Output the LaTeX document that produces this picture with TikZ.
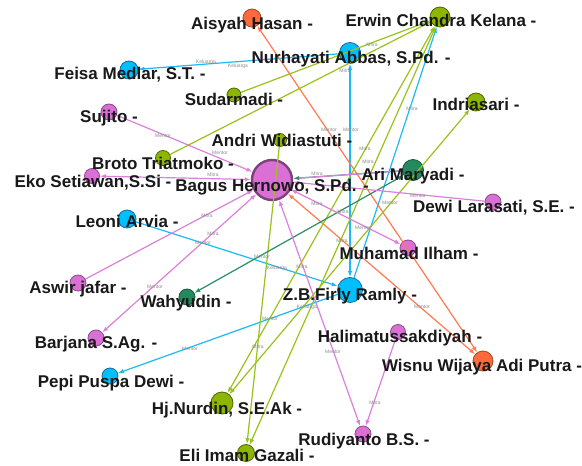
\documentclass[tikz,border=0pt]{standalone}
\usepackage{fontspec}
\setmainfont{Liberation Sans}
\usetikzlibrary{arrows.meta}
\definecolor{cpur}{HTML}{DA70D6}
\definecolor{cpurd}{HTML}{8A4A88}
\definecolor{cblu}{HTML}{00BFFF}
\definecolor{cblud}{HTML}{1A6A92}
\definecolor{cgrn}{HTML}{8DB600}
\definecolor{cgrnd}{HTML}{506600}
\definecolor{cora}{HTML}{FF6A3D}
\definecolor{corad}{HTML}{A3452A}
\definecolor{ctea}{HTML}{24895F}
\definecolor{cted}{HTML}{165A3E}
\definecolor{epurc}{HTML}{DB80DB}
\definecolor{ebluc}{HTML}{1DB9F5}
\definecolor{egrnc}{HTML}{99C21A}
\definecolor{eorac}{HTML}{FF7A50}
\definecolor{eteac}{HTML}{2A8C68}
\tikzset{
  vert/.style={circle, inner sep=0pt, line width=0.8pt},
  pv/.style={vert, fill=cpur, draw=cpurd},
  bv/.style={vert, fill=cblu, draw=cblud},
  gv/.style={vert, fill=cgrn, draw=cgrnd},
  ov/.style={vert, fill=cora, draw=corad},
  tv/.style={vert, fill=ctea, draw=cted},
  lab/.style={font=\bfseries\fontsize{17}{17}\selectfont, text=black!90, inner sep=0pt, anchor=base},
  elab/.style={font=\fontsize{5}{5}\selectfont, text=black!45, inner sep=0pt},
  edg/.style={line width=1.2pt},
  epur/.style={edg, draw=epurc},
  eblu/.style={edg, draw=ebluc},
  egrn/.style={edg, draw=egrnc},
  eora/.style={edg, draw=eorac},
  etea/.style={edg, draw=eteac},
  ar/.style={-{Latex[length=6pt,width=4.5pt]}},
  bar/.style={{Latex[length=6pt,width=4.5pt]}-{Latex[length=6pt,width=4.5pt]}},
}
\begin{document}
\begin{tikzpicture}[x=1pt,y=-1pt]
\useasboundingbox[fill=white] (0,0) rectangle (582,466);
% nodes (circles)
\node[ov, minimum size=18pt] (aisyah) at (252,18) {};
\node[gv, minimum size=20pt] (erwin) at (440,17) {};
\node[bv, minimum size=21pt] (nurhayati) at (350,53) {};
\node[bv, minimum size=18pt] (feisa) at (129,70) {};
\node[gv, minimum size=14pt] (sudarmadi) at (234,95) {};
\node[gv, minimum size=18pt] (indriasari) at (476,102) {};
\node[pv, minimum size=16pt] (sujito) at (109,112) {};
\node[gv, minimum size=13pt] (andri) at (280,140) {};
\node[gv, minimum size=15pt] (broto) at (163,158) {};
\node[pv, minimum size=40pt, line width=2.4pt, draw=cpurd!90!black] (bagus) at (272,180) {};
\node[pv, minimum size=15pt] (eko) at (92,176) {};
\node[tv, minimum size=21pt] (ari) at (413,170) {};
\node[pv, minimum size=16pt] (dewi) at (493,202) {};
\node[bv, minimum size=18pt] (leoni) at (127,219) {};
\node[pv, minimum size=16pt] (ilham) at (408,248) {};
\node[pv, minimum size=16pt] (aswir) at (78,283) {};
\node[tv, minimum size=16pt] (wahyudin) at (187,297) {};
\node[bv, minimum size=25pt] (zb) at (350,290) {};
\node[pv, minimum size=16pt] (barjana) at (96,338) {};
\node[pv, minimum size=15pt] (halimah) at (398,332) {};
\node[ov, minimum size=20pt] (wisnu) at (483,361) {};
\node[bv, minimum size=16pt] (pepi) at (110,376) {};
\node[gv, minimum size=22pt] (nurdin) at (222,403) {};
\node[pv, minimum size=16pt] (rudi) at (363,434) {};
\node[gv, minimum size=17pt] (eli) at (246,453) {};
% edges
\draw[eblu,ar] (nurhayati) -- (feisa);
\draw[eblu,bar] (nurhayati) -- (zb);
\draw[eblu,ar] (zb) -- (erwin);
\draw[eblu,ar] (leoni) -- (zb);
\draw[eblu,ar] (zb) -- (pepi);
\draw[eora,bar] (aisyah) -- (wisnu);
\draw[eora,bar] (bagus) -- (wisnu);
\draw[egrn,ar] (sudarmadi) -- (erwin);
\draw[egrn,ar] (broto) -- (erwin);
\draw[egrn,bar] (nurdin) -- (erwin);
\draw[egrn,bar] (eli) -- (erwin);
\draw[egrn,bar] (indriasari) -- (nurdin);
\draw[egrn,ar] (andri) -- (eli);
\draw[etea,bar] (ari) -- (wahyudin);
\draw[etea,ar] (ari) -- (bagus);
\draw[epur,shorten >=6pt] (ari) -- (bagus);
\draw[epur,ar] (sujito) -- (bagus);
\draw[epur,bar] (eko) -- (bagus);
\draw[epur,ar] (aswir) -- (bagus);
\draw[epur,bar] (bagus) -- (barjana);
\draw[epur,bar] (bagus) -- (rudi);
\draw[epur,ar] (halimah) -- (rudi);
\draw[epur,bar] (bagus) -- (ilham);
\draw[epur,ar] (dewi) -- (bagus);
% edge labels
\node[elab] (k1) at (206,62) {Keluarga};
\node[elab] (k2) at (238,66) {Keluarga};
\node[elab] (m1) at (372,45) {Mitra};
\node[elab] (m2) at (345,71) {Mitra};
\node[elab] (m3) at (412,109) {Mitra};
\node[elab] (t1) at (163,136) {Mentor};
\node[elab] (t2) at (220,153) {Mentor};
\node[elab] (m4) at (213,175) {Mitra};
\node[elab] (t3) at (329,130) {Mentor};
\node[elab] (t4) at (351,130) {Mentor};
\node[elab] (m5) at (365,149) {Mitra};
\node[elab] (m6) at (368,162) {Mitra};
\node[elab] (m7) at (317,174) {Mitra};
\node[elab] (m8) at (317,204) {Mitra};
\node[elab] (m9) at (343,212) {Mitra};
\node[elab] (t5) at (390,203) {Mentor};
\node[elab] (t6) at (418,196) {Mentor};
\node[elab] (t7) at (363,228) {Mentor};
\node[elab] (m10) at (342,241) {Mitra};
\node[elab] (m11) at (207,216) {Mitra};
\node[elab] (m12) at (213,234) {Mitra};
\node[elab] (t8) at (203,243) {Mentor};
\node[elab] (t9) at (262,257) {Mentor};
\node[elab] (k3) at (277,268) {Keluarga};
\node[elab] (m13) at (302,267) {Mitra};
\node[elab] (k4) at (307,307) {Keluarga};
\node[elab] (t10) at (270,319) {Mentor};
\node[elab] (t11) at (155,287) {Mentor};
\node[elab] (t12) at (190,349) {Mentor};
\node[elab] (m14) at (258,347) {Mitra};
\node[elab] (t13) at (422,307) {Mentor};
\node[elab] (t14) at (333,352) {Mentor};
\node[elab] (m15) at (375,403) {Mitra};
% node labels
\node[lab] (l-aisyah) at (252,29) {Aisyah Hasan -};
\node[lab] (l-erwin) at (441,26) {Erwin Chandra Kelana -};
\node[lab] (l-nurhayati) at (351,63) {Nurhayati Abbas, S.Pd. -};
\node[lab] (l-feisa) at (130,79) {Feisa Medlar, S.T. -};
\node[lab] (l-sudarmadi) at (234,105) {Sudarmadi -};
\node[lab] (l-indriasari) at (476,110) {Indriasari -};
\node[lab] (l-sujito) at (109,122) {Sujito -};
\node[lab] (l-andri) at (282,146) {Andri Widiastuti -};
\node[lab] (l-broto) at (163,169) {Broto Triatmoko -};
\node[lab] (l-bagus) at (272,191) {Bagus Hernowo, S.Pd. -};
\node[lab] (l-eko) at (93,187) {Eko Setiawan,S.Si -};
\node[lab] (l-ari) at (413,180) {Ari Maryadi -};
\node[lab] (l-dewi) at (494,212) {Dewi Larasati, S.E. -};
\node[lab] (l-leoni) at (127,227) {Leoni Arvia -};
\node[lab] (l-ilham) at (409,259) {Muhamad Ilham -};
\node[lab] (l-aswir) at (78,293) {Aswir jafar -};
\node[lab] (l-wahyudin) at (186,307) {Wahyudin -};
\node[lab] (l-zb) at (350,300) {Z.B.Firly Ramly -};
\node[lab] (l-barjana) at (96,348) {Barjana S.Ag. -};
\node[lab] (l-halimah) at (400,342) {Halimatussakdiyah -};
\node[lab] (l-wisnu) at (482,371) {Wisnu Wijaya Adi Putra -};
\node[lab] (l-pepi) at (111,387) {Pepi Puspa Dewi -};
\node[lab] (l-nurdin) at (227,414) {Hj.Nurdin, S.E.Ak -};
\node[lab] (l-rudi) at (364,445) {Rudiyanto B.S. -};
\node[lab] (l-eli) at (247,461) {Eli Imam Gazali -};
\end{tikzpicture}
\end{document}
